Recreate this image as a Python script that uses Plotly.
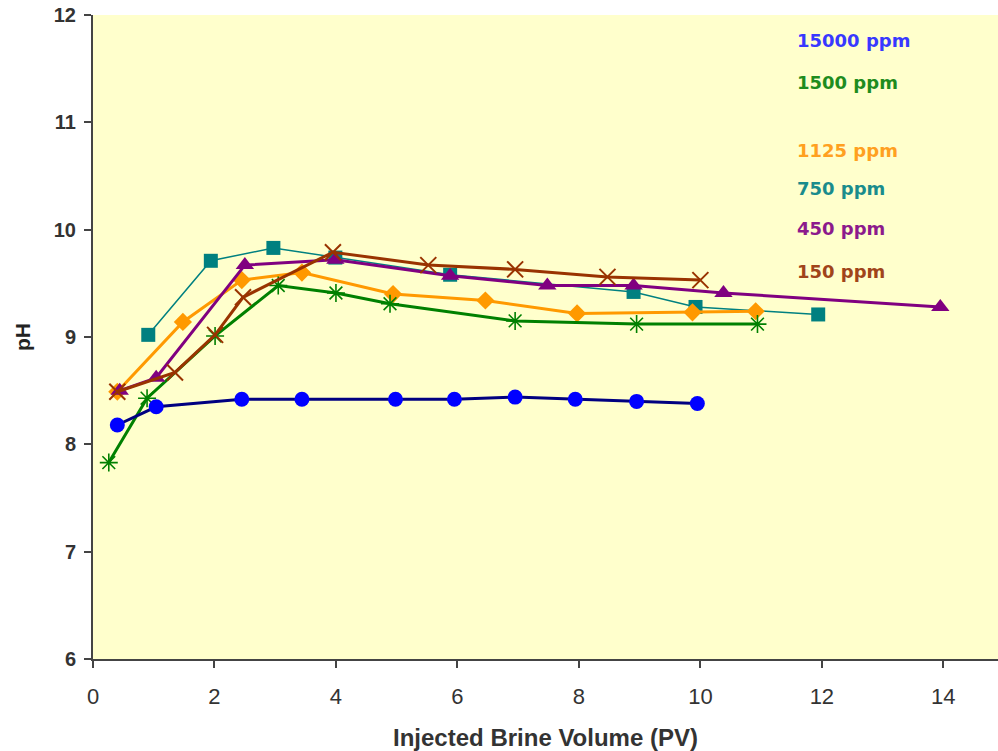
import plotly.graph_objects as go

# Injected brine volume (PV) and pH for each brine salinity
x_15000 = [0.40, 1.04, 2.45, 3.44, 4.98, 5.95, 6.95, 7.94, 8.95, 9.95]
y_15000 = [8.18, 8.35, 8.42, 8.42, 8.42, 8.42, 8.44, 8.42, 8.40, 8.38]

x_1500 = [0.26, 0.89, 2.01, 3.05, 4.00, 4.89, 6.95, 8.95, 10.94]
y_1500 = [7.83, 8.43, 9.01, 9.48, 9.41, 9.31, 9.15, 9.12, 9.12]

x_1125 = [0.40, 1.48, 2.45, 3.44, 4.94, 6.46, 7.97, 9.87, 10.91]
y_1125 = [8.49, 9.14, 9.53, 9.60, 9.40, 9.34, 9.22, 9.23, 9.24]

x_750 = [0.91, 1.94, 2.97, 3.99, 5.88, 8.90, 9.92, 11.94]
y_750 = [9.02, 9.71, 9.83, 9.74, 9.58, 9.42, 9.28, 9.21]

x_450 = [0.44, 1.04, 2.50, 3.99, 5.88, 7.48, 8.90, 10.38, 13.95]
y_450 = [8.50, 8.62, 9.67, 9.72, 9.57, 9.48, 9.48, 9.41, 9.28]

x_150 = [0.40, 1.35, 2.01, 2.47, 3.95, 5.52, 6.95, 8.47, 10.00]
y_150 = [8.49, 8.67, 9.02, 9.37, 9.79, 9.67, 9.63, 9.56, 9.53]

labels = ["15000 ppm", "1500 ppm", "1125 ppm", "750 ppm", "450 ppm", "150 ppm"]
label_y = [11.76, 11.37, 10.74, 10.38, 10.01, 9.61]
label_colors = ["#3838FF", "#1E8C1E", "#FFA020", "#1A8C8C", "#8C1A8C", "#A0441A"]

fig = go.Figure()

# draw order: thin teal first, then the heavier series
fig.add_trace(go.Scatter(
    x=x_750, y=y_750, mode="lines+markers", name="750 ppm",
    line=dict(color="#008080", width=1.5),
    marker=dict(symbol="square", size=14, color="#008080")))
fig.add_trace(go.Scatter(
    x=x_1125, y=y_1125, mode="lines+markers", name="1125 ppm",
    line=dict(color="#FF9900", width=3),
    marker=dict(symbol="diamond", size=14, color="#FF9900")))
fig.add_trace(go.Scatter(
    x=x_1500, y=y_1500, mode="lines+markers", name="1500 ppm",
    line=dict(color="#008000", width=3),
    marker=dict(symbol="asterisk-open", size=15,
                line=dict(color="#008000", width=1.6))))
fig.add_trace(go.Scatter(
    x=x_450, y=y_450, mode="lines+markers", name="450 ppm",
    line=dict(color="#800080", width=3),
    marker=dict(symbol="triangle-up", size=16, color="#800080")))
fig.add_trace(go.Scatter(
    x=x_150, y=y_150, mode="lines+markers", name="150 ppm",
    line=dict(color="#993300", width=3),
    marker=dict(symbol="x-thin-open", size=16,
                line=dict(color="#993300", width=2))))
fig.add_trace(go.Scatter(
    x=x_15000, y=y_15000, mode="lines+markers", name="15000 ppm",
    line=dict(color="#000080", width=3),
    marker=dict(symbol="circle", size=15, color="#0000FF")))

for text, yy, col in zip(labels, label_y, label_colors):
    fig.add_annotation(x=11.55, y=yy, xref="x", yref="y", text="<b>%s</b>" % text,
                       showarrow=False, xanchor="left", yanchor="middle",
                       font=dict(family="DejaVu Sans", size=18, color=col))

fig.update_layout(
    width=998, height=751,
    margin=dict(l=93, r=0, t=15, b=92),
    paper_bgcolor="white", plot_bgcolor="#FFFFCC",
    showlegend=False,
    xaxis=dict(range=[0, 14.9], tickvals=[0, 2, 4, 6, 8, 10, 12, 14],
               showgrid=False, zeroline=False, showline=True,
               linecolor="#444444", linewidth=2,
               ticks="outside", ticklen=7, tickwidth=2, tickcolor="#444444",
               ticklabelstandoff=10,
               tickfont=dict(family="Liberation Sans", size=22, color="#333333"),
               title=dict(text="<b>Injected Brine Volume (PV)</b>",
                          font=dict(family="Liberation Sans", size=24, color="#333333"),
                          standoff=22)),
    yaxis=dict(range=[6, 12], tickvals=[6, 7, 8, 9, 10, 11, 12],
               showgrid=False, zeroline=False, showline=True,
               linecolor="#444444", linewidth=2,
               ticks="outside", ticklen=7, tickwidth=2, tickcolor="#444444",
               ticklabelstandoff=4,
               tickfont=dict(family="Liberation Sans", size=20, color="#333333", weight="bold"),
               title=dict(text="<b>pH</b>",
                          font=dict(family="Liberation Sans", size=21, color="#222222"),
                          standoff=17)),
)

fig.write_html("out.html")
